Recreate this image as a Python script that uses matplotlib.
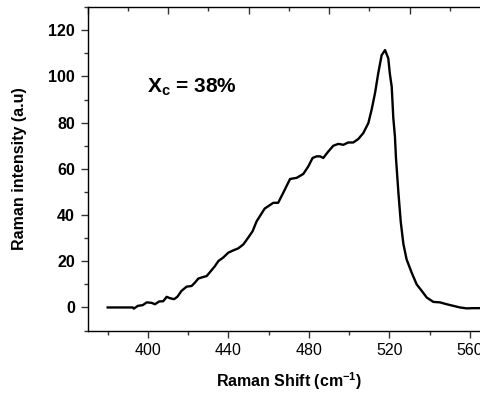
import numpy as np
import matplotlib.pyplot as plt
from matplotlib.ticker import MultipleLocator

plt.rcParams['font.family'] = ['Liberation Sans', 'DejaVu Sans']
plt.rcParams['mathtext.fontset'] = 'custom'
plt.rcParams['mathtext.rm'] = 'Liberation Sans'
plt.rcParams['mathtext.bf'] = 'Liberation Sans:bold'

# Raman spectrum
shift = [380, 385, 392.5, 393, 395, 397.4, 399.4, 401.8, 403.5, 405.6, 407.6, 409.3,
         411, 413, 414.6, 416.7, 419.2, 421.7, 423.4, 425, 427.5, 429.2, 431.3,
         433.3, 435, 437.4, 439.9, 442.4, 444.9, 447.4, 449.8, 452, 454, 455.6,
         458, 462.3, 464.7, 467.2, 470.6, 473.9, 477.2, 479.7, 481.8, 483.8,
         485.5, 487.1, 489.6, 492.1, 494.6, 497.1, 499.5, 502, 504.5, 507, 509.5,
         511.1, 512.8, 514.4, 516.1, 517.8, 519.4, 520.2, 521.1, 521.9, 522.7,
         523.2, 524.4, 525.6, 526.9, 528.5, 531, 533.5, 536, 538.5, 541.8, 545.1,
         548.4, 551.7, 555, 558.4, 561.7, 565, 569]
intensity = [0, 0, 0, -0.5, 0.7, 1.0, 2.2, 2.0, 1.4, 2.6, 2.7, 4.6,
             4.0, 3.6, 4.6, 7.2, 9.0, 9.3, 10.8, 12.5, 13.2, 13.6, 15.8,
             17.9, 20.1, 21.6, 23.7, 24.7, 25.6, 27.3, 30.2, 33.0, 37.3, 39.5,
             42.8, 45.3, 45.3, 49.6, 55.6, 56.1, 57.8, 61.1, 64.7, 65.4,
             65.4, 64.7, 67.5, 70.0, 70.8, 70.4, 71.4, 71.4, 72.9, 75.5, 79.8,
             85.5, 92.7, 101.3, 109.2, 111.4, 107.8, 101, 95.6, 82, 74,
             65, 50, 37, 27.5, 20.8, 15.1, 10, 7.2, 4.3, 2.4, 2.2,
             1.4, 0.7, 0, -0.4, -0.3, -0.3, -0.3]

xc_text = r"X$_{\mathbf{c}}$ = 38%"

fig = plt.figure(figsize=(4.81, 3.94), dpi=100)
ax = fig.add_axes([0.182, 0.161, 0.837, 0.821])

ax.plot(shift, intensity, color='k', lw=1.7)

ax.set_xlim(370, 570)
ax.set_ylim(-10, 130)
ax.xaxis.set_major_locator(MultipleLocator(40))
ax.xaxis.set_minor_locator(MultipleLocator(20))
ax.yaxis.set_major_locator(MultipleLocator(20))
ax.yaxis.set_minor_locator(MultipleLocator(10))

ax.spines['right'].set_visible(False)
for s in ax.spines.values():
	s.set_linewidth(1.0)
	s.set_color('#333333')

ax.tick_params(which='major', direction='out', length=5, width=1, color='#333333', pad=4)
ax.tick_params(which='minor', direction='out', length=3, width=1, color='#333333')
ax.tick_params(axis='x', labelsize=11.5)
ax.tick_params(axis='y', labelsize=11.5)
for lab in ax.get_yticklabels():
	lab.set_fontweight('bold')

# top axis ticks (offset, no labels)
top = ax.twiny()
top.set_xlim(360, 560)
top.xaxis.set_major_locator(MultipleLocator(40))
top.xaxis.set_minor_locator(MultipleLocator(20))
top.tick_params(which='major', direction='in', length=5, width=1, color='#333333', labeltop=False)
top.tick_params(which='minor', direction='in', length=3, width=1, color='#333333')
top.spines['right'].set_visible(False)

ax.set_xlabel('Raman Shift (cm$^{\\mathbf{-1}}$)', fontsize=11.5, fontweight='bold', labelpad=9)
ax.set_ylabel('Raman intensity (a.u)', fontsize=11.5, fontweight='bold', labelpad=15)

ax.text(0.147, 0.735, xc_text, transform=ax.transAxes, fontsize=15, fontweight='bold')

fig.savefig('out.png', dpi=100)
